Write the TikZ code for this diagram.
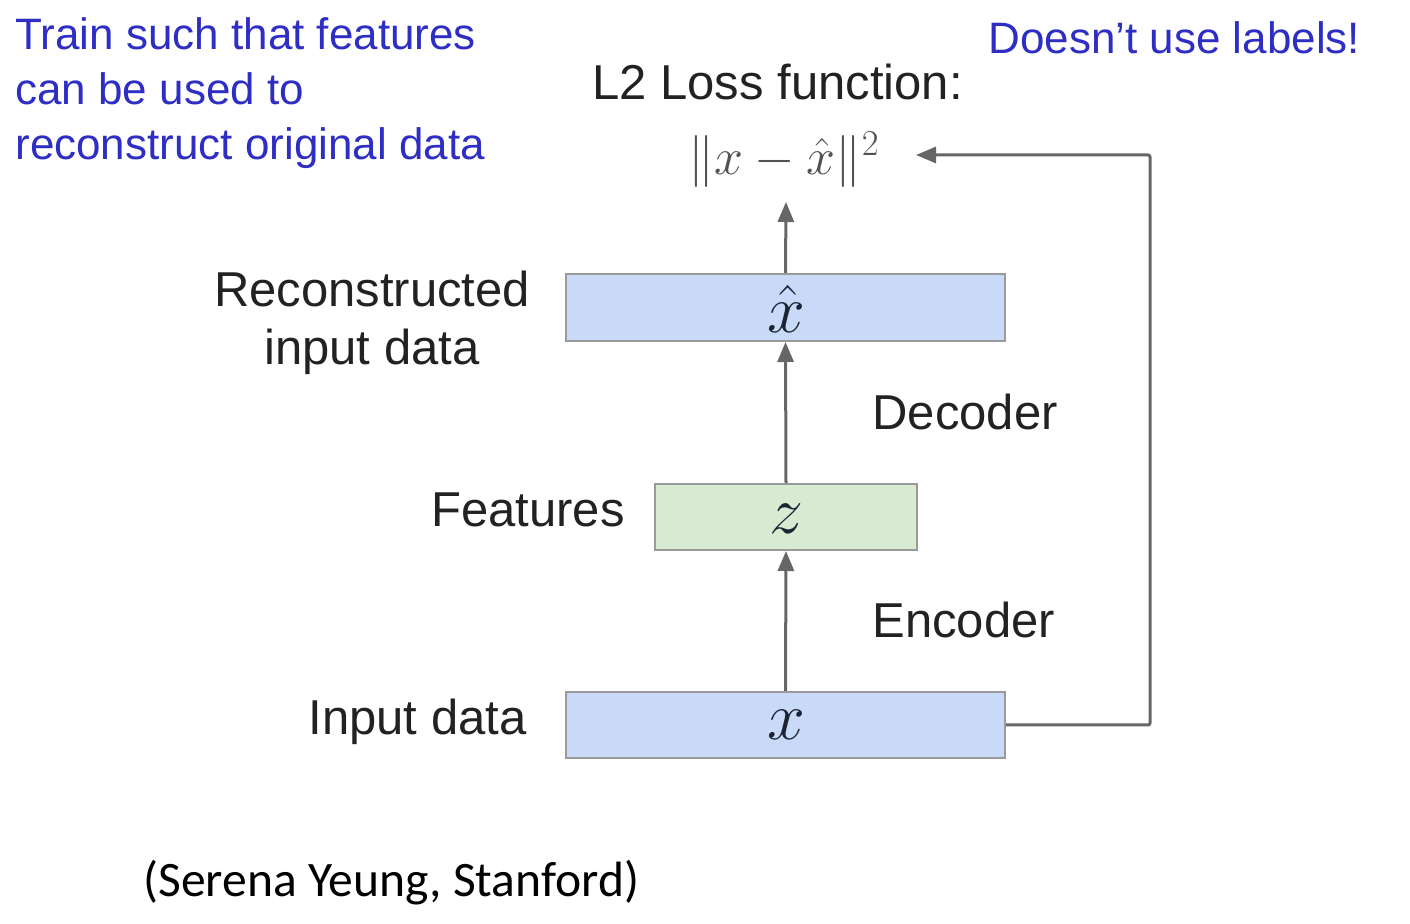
\documentclass[tikz,border=0pt]{standalone}
\usepackage{fix-cm}
\usepackage{fontspec}
\setmainfont{Liberation Sans}
\newfontfamily\calib{Carlito}
\usetikzlibrary{arrows.meta}
\definecolor{boxblue}{HTML}{C9DAF8}
\definecolor{boxgreen}{HTML}{D9EAD3}
\definecolor{boxline}{HTML}{9A9A9A}
\definecolor{arrowgray}{HTML}{666666}
\definecolor{noteblue}{HTML}{2E2EC4}
\definecolor{labelblack}{HTML}{222222}
\definecolor{mathink}{HTML}{1C2433}
\tikzset{
  layerbox/.style={draw=boxline, line width=1pt, inner sep=0pt},
  flow/.style={draw=arrowgray, line width=1.5pt, -{Triangle[length=10pt,width=8pt]}},
  lbl/.style={inner sep=0pt, text=labelblack, font=\fontsize{24.5}{30}\selectfont},
  note/.style={inner sep=0pt, text=noteblue, font=\fontsize{22}{27}\selectfont},
  mathlbl/.style={inner sep=0pt, text=mathink, font=\fontsize{34}{40}\selectfont}
}
\begin{document}
\begin{tikzpicture}[x=0.5pt,y=-0.5pt]
\useasboundingbox (0,0) rectangle (1410,924);
% boxes
\node[layerbox, fill=boxblue, minimum width=219.5pt, minimum height=33.5pt] (xhat) at (785.5,307.5) {};
\node[layerbox, fill=boxgreen, minimum width=131pt, minimum height=33pt] (z) at (786,517) {};
\node[layerbox, fill=boxblue, minimum width=219.5pt, minimum height=33pt] (x) at (785.5,725) {};
\node[mathlbl] (xhatt) at (786,309) {$\hat{x}$};
\node[mathlbl] (zt) at (786,519) {$z$};
\node[mathlbl] (xt) at (786,725) {$x$};
% loss
\node[inner sep=0pt, text=black!68, font=\fontsize{26}{31}\selectfont] (loss) at (784,160) {$\|x-\hat{x}\|^2$};
\coordinate (losstip) at (916,155);
\coordinate (lossbot) at (786,202);
\coordinate (right) at (1150,725);
\coordinate (rtop) at (1150,155);
% arrows
\draw[flow] (x.north) -- (z.south);
\draw[flow] (z.north) -- (xhat.south);
\draw[flow] (xhat.north) -- (lossbot);
\draw[flow, rounded corners=1pt] (x.east) -- (right) -- (rtop) -- (losstip);
% labels
\node[lbl, anchor=base west] (l2) at (592,100) {L2 Loss function:};
\node[lbl, anchor=base, align=center] (rec) at (372,365) {Reconstructed\\[-1pt]input data};
\node[lbl, anchor=base east] (feat) at (625,527) {Features};
\node[lbl, anchor=base west] (dec) at (872,430) {Decoder};
\node[lbl, anchor=base west] (enc) at (872,638) {Encoder};
\node[lbl, anchor=base east] (inp) at (527,735) {Input data};
% notes
\node[note, anchor=base west, align=left] (train) at (15,160) {Train such that features\\[0.5pt]can be used to\\[0.5pt]reconstruct original data};
\node[note, anchor=base west] (labels) at (988,54) {Doesn't use labels!};
\node[inner sep=0pt, anchor=base west, font=\calib\fontsize{24.8}{30}\selectfont] (cite) at (143,897) {(Serena Yeung, Stanford)};
\end{tikzpicture}
\end{document}
